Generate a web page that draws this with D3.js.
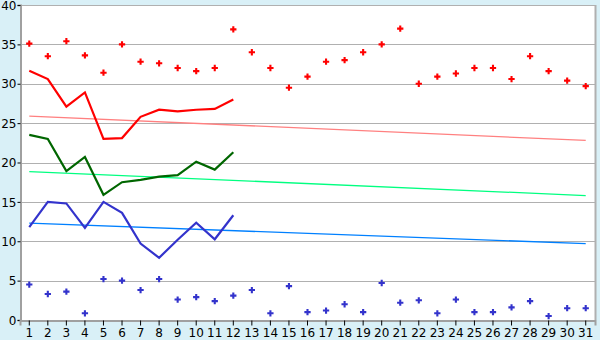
<!DOCTYPE html>
<html>
<head>
<meta charset="utf-8">
<script src="https://cdn.jsdelivr.net/npm/d3@7"></script>
<style>
  body { margin: 0; background: #d9f0f7; }
  svg { display: block; }
  text { font-family: "DejaVu Sans", Verdana, sans-serif; font-size: 12px; fill: #000; }
</style>
</head>
<body>
<svg id="chart"></svg>
<script>
// Dimensions
const width = 600;
const height = 340;
const margin = { top: 5, right: 5, bottom: 20, left: 20 };

// Data
const days = d3.range(1, 32);
const yTicks = [0, 5, 10, 15, 20, 25, 30, 35, 40];

const redPoints = [35.1, 33.5, 35.4, 33.6, 31.4, 35.0, 32.8, 32.6, 32.0, 31.6,
  32.0, 36.9, 34.0, 32.0, 29.5, 30.9, 32.8, 33.0, 34.0, 35.0,
  37.0, 30.0, 30.9, 31.3, 32.0, 32.0, 30.6, 33.5, 31.6, 30.4, 29.7];
const bluePoints = [4.5, 3.3, 3.6, 0.85, 5.2, 5.0, 3.8, 5.2, 2.6, 2.9,
  2.4, 3.1, 3.8, 0.85, 4.3, 1.0, 1.2, 2.0, 1.0, 4.7,
  2.2, 2.5, 0.85, 2.6, 1.0, 1.0, 1.6, 2.4, 0.5, 1.5, 1.5];

const redLine = [31.65, 30.6, 27.1, 28.9, 23.0, 23.1, 25.8, 26.7, 26.5, 26.7, 26.8, 28.0];
const greenLine = [23.5, 23.0, 18.9, 20.7, 15.9, 17.5, 17.8, 18.2, 18.4, 20.1, 19.1, 21.3];
const blueLine = [11.8, 15.0, 14.8, 11.7, 15.0, 13.6, 9.7, 7.9, 10.2, 12.35, 10.25, 13.3];

// Trend lines: value at first and last day
const trendDays = [1, 31];
const redTrend = [25.9, 22.8];
const greenTrend = [18.85, 15.8];
const blueTrend = [12.3, 9.7];

const svg = d3.select("#chart").attr("width", width).attr("height", height);

// Scales
const x = d3.scaleBand()
  .domain(days)
  .range([margin.left, width - margin.right])
  .padding(0);
const cx = d => x(d) + x.bandwidth() / 2;

const y = d3.scaleLinear()
  .domain([0, 40])
  .range([height - margin.bottom, margin.top]);

// Plot background
svg.append("rect")
  .attr("x", margin.left)
  .attr("y", margin.top)
  .attr("width", width - margin.left - margin.right)
  .attr("height", height - margin.top - margin.bottom)
  .attr("fill", "#fff");

// Gridlines
svg.append("g")
  .selectAll("line")
  .data(yTicks)
  .join("line")
  .attr("x1", margin.left)
  .attr("x2", width - margin.right)
  .attr("y1", d => Math.round(y(d)) + 0.5)
  .attr("y2", d => Math.round(y(d)) + 0.5)
  .attr("stroke", "#b0b0b0")
  .attr("stroke-width", 1);

// Right border
svg.append("line")
  .attr("x1", width - margin.right + 0.5)
  .attr("x2", width - margin.right + 0.5)
  .attr("y1", margin.top)
  .attr("y2", height - margin.bottom)
  .attr("stroke", "#b0b0b0")
  .attr("stroke-width", 2);

// Axes
const yAxis = svg.append("g")
  .attr("transform", `translate(${margin.left + 0.5},0)`)
  .call(d3.axisLeft(y).tickValues(yTicks).tickSize(3).tickPadding(1));
yAxis.select(".domain").attr("stroke", "#a0a0a0").attr("stroke-width", 2);
yAxis.selectAll(".tick line").attr("stroke", "#000");
yAxis.selectAll("text").style("font-size", "12px").attr("dy", "0.35em");

const xAxis = svg.append("g")
  .attr("transform", `translate(0,${Math.round(y(0)) + 0.5})`)
  .call(d3.axisBottom(x).tickSize(5).tickPadding(3));
xAxis.select(".domain").attr("stroke", "#a0a0a0").attr("stroke-width", 2);
xAxis.selectAll(".tick line").attr("stroke", "#000");
xAxis.selectAll("text").style("font-size", "12px");

// Trend lines
const trend = d3.line().x((d, i) => cx(trendDays[i])).y(d => y(d));
[[redTrend, "#ff8080"], [greenTrend, "#00ff80"], [blueTrend, "#0080ff"]].forEach(([vals, color]) => {
  svg.append("path")
    .datum(vals)
    .attr("d", trend)
    .attr("fill", "none")
    .attr("stroke", color)
    .attr("stroke-width", 1.3);
});

// Main lines (days 1-12)
const line = d3.line().x((d, i) => cx(days[i])).y(d => y(d));
[[redLine, "#ff0000"], [greenLine, "#006600"], [blueLine, "#3333cc"]].forEach(([vals, color]) => {
  svg.append("path")
    .datum(vals)
    .attr("d", line)
    .attr("fill", "none")
    .attr("stroke", color)
    .attr("stroke-width", 2.2);
});

// Point markers
const cross = d3.symbol().type(d3.symbolCross).size(22);
[[redPoints, "#ff0000"], [bluePoints, "#3333cc"]].forEach(([vals, color]) => {
  svg.append("g")
    .selectAll("path")
    .data(vals)
    .join("path")
    .attr("d", cross)
    .attr("transform", (d, i) => `translate(${cx(days[i])},${y(d)})`)
    .attr("fill", color);
});
</script>
</body>
</html>
